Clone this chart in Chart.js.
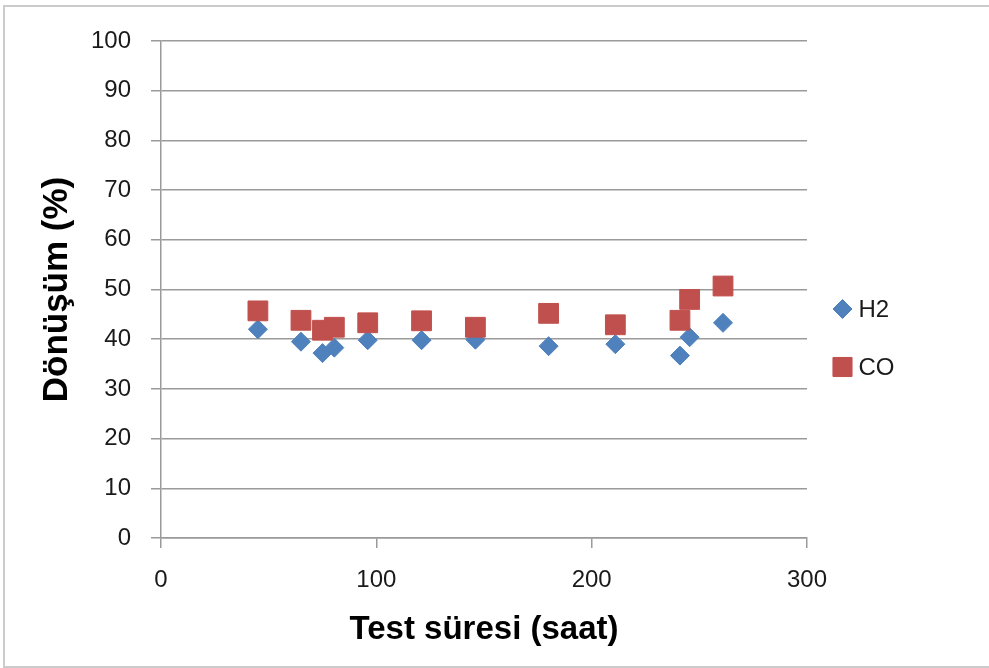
<!DOCTYPE html>
<html>
<head>
<meta charset="utf-8">
<script src="https://cdn.jsdelivr.net/npm/chart.js@4.4.1/dist/chart.umd.min.js"></script>
<style>
  html, body { margin: 0; padding: 0; background: #fff; overflow: hidden; width: 989px; height: 668px; }
  #frame { position: absolute; left: 3px; top: 5px; width: 986px; height: 659px; border: 2px solid #cbcbcb; border-right: none; }
  #wrap { position: absolute; left: 0; top: 0; width: 989px; height: 668px; }
</style>
</head>
<body>
<div id="frame"></div>
<div id="wrap"><canvas id="conv-chart" width="989" height="668"></canvas></div>
<script>
'use strict';

// test time (h) and conversion (%) per gas
const hours = [45, 65, 75, 80.5, 96, 121, 146, 180, 211, 241, 245.5, 261];
const h2Conv = [42.0, 39.5, 37.2, 38.3, 39.8, 39.8, 39.9, 38.6, 39.0, 36.7, 40.4, 43.3];
const coConv = [45.7, 43.8, 41.8, 42.4, 43.3, 43.7, 42.4, 45.2, 42.9, 43.8, 48.0, 50.7];
const seriesNames = ['H2', 'CO'];
const yTicks = [0, 10, 20, 30, 40, 50, 60, 70, 80, 90, 100];
const xTicks = [0, 100, 200, 300];

const Blue = '#4f81bd';
const Red = '#c0504d';
const GridColor = '#9a9a9a';
const TextColor = '#1a1a1a';
const Family = '"Liberation Sans", Arial, sans-serif';

function toPoints(xs, ys) {
  return xs.map((x, i) => ({ x, y: ys[i] }));
}

// legend to the right of the plot, one marker + name per row
const sideLegend = {
  id: 'sideLegend',
  afterDraw(chart, args, opts) {
    const ctx = chart.ctx;
    ctx.save();
    chart.data.datasets.forEach((ds, i) => {
      const y = opts.top + i * opts.gap;
      ctx.fillStyle = ds.backgroundColor;
      ctx.strokeStyle = ds.borderColor;
      ctx.lineWidth = 1;
      Chart.helpers.drawPoint(ctx, {
        pointStyle: ds.pointStyle,
        radius: opts.radius[i],
        rotation: 0,
        borderWidth: 1,
      }, opts.x, y);
      ctx.fillStyle = TextColor;
      ctx.font = `24px ${Family}`;
      ctx.textBaseline = 'middle';
      ctx.textAlign = 'left';
      ctx.fillText(ds.label, opts.x + 16, y + 1);
    });
    ctx.restore();
  },
};

let data = {
  datasets: [{
    label: seriesNames[0],
    data: toPoints(hours, h2Conv),
    pointStyle: 'rectRot',
    pointRadius: 9.5,
    backgroundColor: Blue,
    borderColor: Blue,
    borderWidth: 1,
    showLine: false,
    order: 2,
  }, {
    label: seriesNames[1],
    data: toPoints(hours, coConv),
    pointStyle: 'rect',
    pointRadius: 14,
    backgroundColor: Red,
    borderColor: Red,
    borderWidth: 1,
    showLine: false,
    order: 1,
  }],
};

let options = {
  responsive: false,
  animation: false,
  events: [],
  layout: {
    padding: { left: 0, top: 41, right: 182, bottom: 0 },
  },
  plugins: {
    legend: { display: false },
    tooltip: { enabled: false },
    sideLegend: { x: 842.5, top: 309, gap: 58, radius: [9.5, 13.5] },
  },
  scales: {
    x: {
      type: 'linear',
      min: 0,
      max: 300,
      afterBuildTicks(scale) { scale.ticks = xTicks.map(v => ({ value: v })); },
      ticks: { padding: 18, color: TextColor, font: { size: 24, family: Family } },
      grid: { drawOnChartArea: false, drawTicks: true, tickLength: 10, color: GridColor, lineWidth: 1.5 },
      border: { color: GridColor, width: 1.5 },
      title: {
        display: true,
        text: 'Test süresi (saat)',
        color: '#000',
        font: { size: 33, weight: 'bold', family: Family },
        padding: { top: 0, bottom: 18 },
      },
      afterFit(scale) { scale.height = 130; },
    },
    y: {
      type: 'linear',
      min: 0,
      max: 100,
      afterBuildTicks(scale) { scale.ticks = yTicks.map(v => ({ value: v })); },
      ticks: { padding: 20, color: TextColor, font: { size: 24, family: Family } },
      grid: { drawOnChartArea: true, drawTicks: true, tickLength: 10, color: GridColor, lineWidth: 1.5 },
      border: { color: GridColor, width: 1.5 },
      title: {
        display: true,
        text: 'Dönüşüm (%)',
        color: '#000',
        font: { size: 35, weight: 'bold', family: Family },
        padding: { top: 36, bottom: 0 },
      },
      afterFit(scale) { scale.width = 161; },
    },
  },
};

const convChart = new Chart(document.getElementById('conv-chart'), {
  type: 'scatter',
  data: data,
  options: options,
  plugins: [sideLegend],
});
</script>
</body>
</html>
